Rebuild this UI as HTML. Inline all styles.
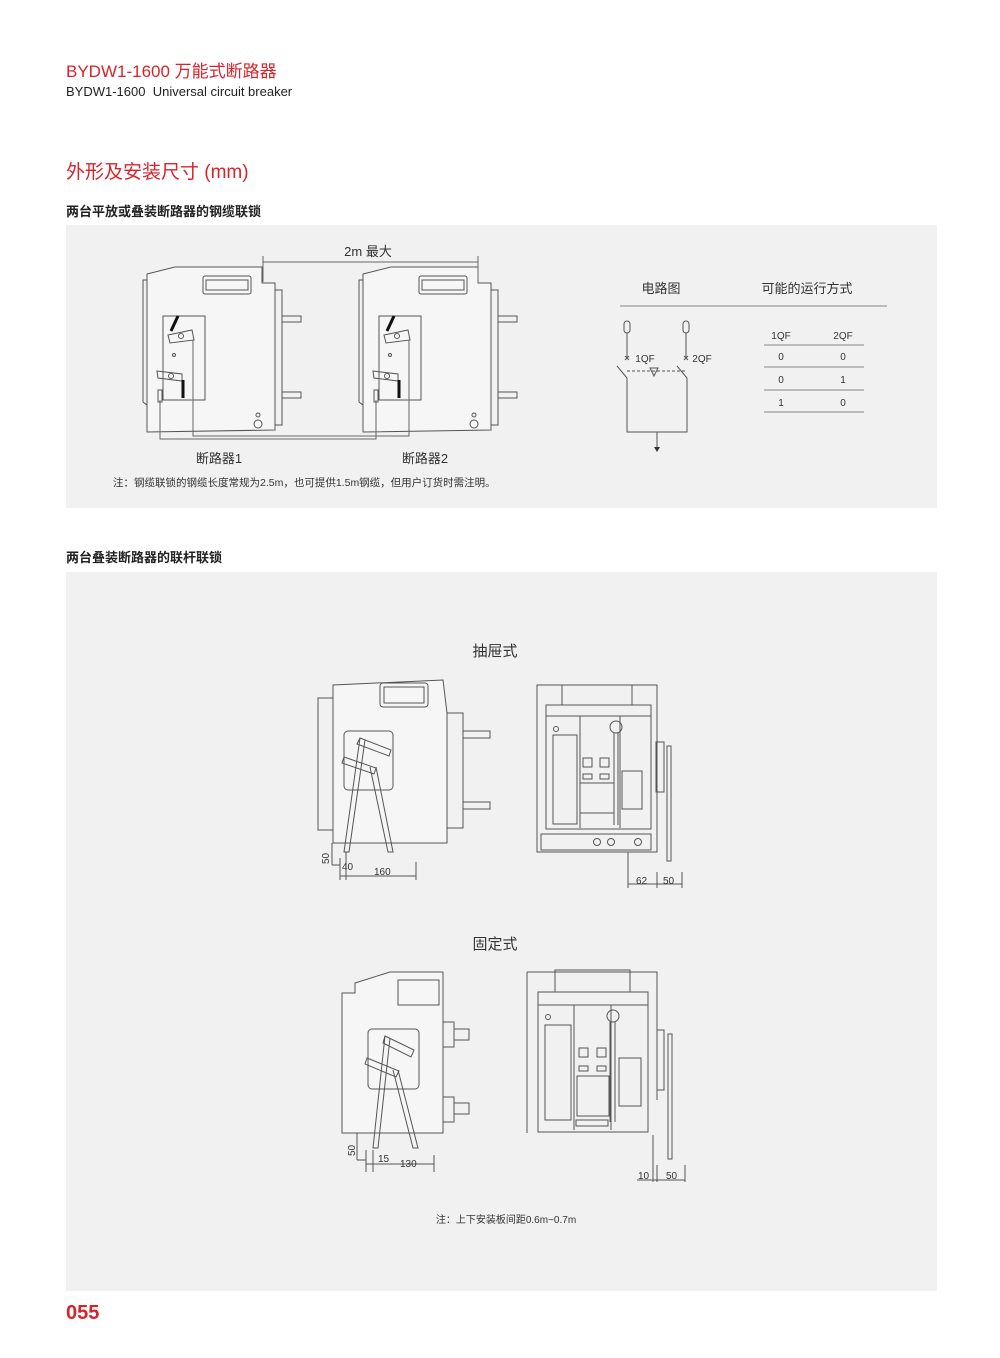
<!DOCTYPE html>
<html><head><meta charset="utf-8"><style>
body{margin:0;background:#fff;}
.pg{position:relative;width:1000px;height:1358px;overflow:hidden;font-family:"Liberation Sans","Noto Sans CJK SC",sans-serif;}
.t{position:absolute;white-space:nowrap;}
</style></head><body><div class="pg">
<div class="t" style="left:66px;top:57px;font-size:17px;color:#d8232a;">BYDW1-1600 万能式断路器</div>
<div class="t" style="left:66px;top:84px;font-size:13px;color:#222;">BYDW1-1600&nbsp; Universal circuit breaker</div>
<div class="t" style="left:66px;top:157px;font-size:19px;color:#d8232a;">外形及安装尺寸 (mm)</div>
<div class="t" style="left:66px;top:201px;font-size:13px;color:#222;font-weight:bold;">两台平放或叠装断路器的钢缆联锁</div>
<div style="position:absolute;left:66px;top:225px;width:871px;height:283px;background:#f1f1f1;"></div>
<div class="t" style="left:66px;top:547px;font-size:13px;color:#222;font-weight:bold;">两台叠装断路器的联杆联锁</div>
<div style="position:absolute;left:66px;top:572px;width:871px;height:719px;background:#f1f1f1;"></div>
<div class="t" style="left:66px;top:1302px;font-size:20px;color:#d8232a;font-weight:bold;">055</div>

<svg width="1000" height="1358" style="position:absolute;left:0;top:0" font-family="Liberation Sans, Noto Sans CJK SC, sans-serif">
<defs>
<g id="brk" fill="none" stroke="#555" stroke-width="1">
 <path d="M147,274 L175,267 L262,267 L262,283 L275,283 L275,430 L147,432 Z" fill="#f6f6f6"/>
 <path d="M147,280 L143,280 L143,402 L147,405"/>
 <rect x="275" y="290" width="7" height="135"/>
 <rect x="282" y="316" width="19" height="6"/><rect x="282" y="392" width="19" height="6"/>
 <rect x="203" y="276" width="48" height="18" rx="2"/><rect x="206" y="280" width="42" height="10"/>
 <rect x="163" y="316" width="42" height="84"/>
 <path d="M171,331 L178,316" stroke="#111" stroke-width="3"/>
 <path d="M168,335 L192,330 L194,340 L170,343 Z"/>
 <circle cx="181" cy="336" r="2.5"/><circle cx="174" cy="355" r="1.5"/>
 <path d="M157,371 L182,374 L182,381 L158,378 Z"/>
 <circle cx="171" cy="376" r="2.5"/>
 <path d="M183,380 L183,398" stroke="#111" stroke-width="3"/>
 <rect x="158" y="390" width="4" height="12"/>
 <circle cx="258" cy="415" r="2"/><circle cx="258" cy="424" r="4"/>
</g>
</defs>
<use href="#brk"/>
<use href="#brk" transform="translate(216,0)"/>
<g fill="none" stroke="#666">
 <path d="M160,400 L160,439 L376,439 L376,400"/>
 <path d="M193,340 L193,436 L409,436 L409,340"/>
 <path d="M263,262 L478,262"/><path d="M263,256 L263,282 M478,256 L478,282"/>
</g>
<text x="368" y="256" font-size="13" fill="#333" text-anchor="middle">2m 最大</text>
<text x="219" y="463" font-size="13" fill="#333" text-anchor="middle">断路器1</text>
<text x="425" y="463" font-size="13" fill="#333" text-anchor="middle">断路器2</text>
<text x="113" y="486" font-size="10.5" fill="#333">注：钢缆联锁的钢缆长度常规为2.5m，也可提供1.5m钢缆，但用户订货时需注明。</text>
<text x="661" y="293" font-size="13" fill="#333" text-anchor="middle">电路图</text>
<text x="807" y="293" font-size="13" fill="#333" text-anchor="middle">可能的运行方式</text>
<g stroke="#888" fill="none">
 <path d="M620,306 L887,306"/>
 <path d="M764,345 H864 M764,367 H864 M764,390 H864 M764,412 H864"/>
</g>
<g font-size="10" fill="#333" text-anchor="middle">
 <text x="781" y="339">1QF</text><text x="843" y="339">2QF</text>
 <text x="781" y="360">0</text><text x="843" y="360">0</text>
 <text x="781" y="383">0</text><text x="843" y="383">1</text>
 <text x="781" y="406">1</text><text x="843" y="406">0</text>
 <text x="645" y="362">1QF</text><text x="702" y="362">2QF</text>
</g>
<g stroke="#555" fill="none">
 <rect x="624" y="321" width="6" height="12" rx="3"/><rect x="683" y="321" width="6" height="12" rx="3"/>
 <path d="M627,333 V358 M686,333 V358 M625,356 l4,4 M629,356 l-4,4 M684,356 l4,4 M688,356 l-4,4"/>
 <path d="M617,366 L627,378 M677,366 L687,378"/>
 <path d="M627,371 H686" stroke-dasharray="3,2"/>
 <path d="M650,368 L658,368 L654,376 Z"/>
 <path d="M627,378 V432 H687 V378 M657,432 V448"/>
</g>
<path d="M654,447 L660,447 L657,452 Z" fill="#333"/>

<text x="495" y="656" font-size="15" fill="#333" text-anchor="middle">抽屉式</text>
<text x="495" y="949" font-size="15" fill="#333" text-anchor="middle">固定式</text>
<text x="506" y="1223" font-size="10" fill="#333" text-anchor="middle">注：上下安装板间距0.6m~0.7m</text>
<g fill="none" stroke="#555" stroke-width="1">
 <path d="M333,685 L443,680 L447,713 L447,843 L333,843 Z" fill="#f6f6f6"/>
 <path d="M333,698 L318,698 L318,830 L333,830"/>
 <rect x="447" y="713" width="16" height="115"/><rect x="463" y="731" width="27" height="7"/><rect x="463" y="802" width="27" height="7"/>
 <rect x="380" y="683" width="48" height="24" rx="3"/><rect x="384" y="687" width="40" height="16"/>
 <rect x="344" y="731" width="49" height="59" rx="4"/>
 <path d="M360,738 L391,750 L389,756 L357,744 Z"/><path d="M344,757 L376,768 L374,774 L342,763 Z"/>
 <path d="M360,738 L344,852 L349,852 L365,740"/><path d="M370,767 L388,852 L393,852 L376,767"/>
 <path d="M332,843 V865 M340,858 V880 M346,852 V880 M416,862 V880 M340,876 H416 M332,865 H340"/>
 <rect x="537" y="685" width="120" height="167"/>
 <rect x="562" y="685" width="70" height="20"/>
 <rect x="546" y="705" width="105" height="124"/>
 <path d="M546,716 H651 M580,716 V828 M620,716 V828"/>
 <rect x="553" y="735" width="24" height="89"/><rect x="622" y="771" width="20" height="38"/>
 <circle cx="556" cy="729" r="2.5"/><circle cx="616" cy="727" r="6"/><path d="M614,733 V825 M618,733 V825"/>
 <rect x="583" y="758" width="9" height="9"/><rect x="600" y="758" width="9" height="9"/><rect x="583" y="774" width="9" height="5"/><rect x="600" y="774" width="9" height="5"/>
 <rect x="580" y="783" width="34" height="30"/>
 <rect x="541" y="834" width="110" height="16"/><circle cx="597" cy="842" r="3.5"/><circle cx="611" cy="842" r="3.5"/><circle cx="638" cy="842" r="3.5"/>
 <rect x="656" y="742" width="8" height="50"/><rect x="667" y="746" width="4" height="115"/>
 <path d="M628,852 V888 M657,872 V888 M682,872 V888 M628,884 H682"/>
 <path d="M355,983 L390,972 L443,972 L443,1133 L342,1133 L342,993 L355,993 Z" fill="#f6f6f6"/>
 <rect x="398" y="980" width="41" height="25"/>
 <rect x="443" y="1022" width="11" height="25"/><rect x="454" y="1029" width="15" height="11"/>
 <rect x="443" y="1097" width="11" height="25"/><rect x="454" y="1103" width="15" height="11"/>
 <rect x="368" y="1029" width="51" height="60" rx="4"/>
 <path d="M385,1036 L414,1050 L411,1057 L383,1043 Z"/><path d="M367,1058 L399,1071 L396,1077 L365,1064 Z"/>
 <path d="M385,1036 L373,1148 L378,1148 L390,1038"/><path d="M393,1070 L413,1148 L418,1148 L398,1070"/>
 <path d="M357,1133 V1160 M366,1150 V1172 M373,1150 V1172 M434,1155 V1172 M366,1164 H434 M357,1160 H366"/>
 <path d="M527,972 H657 V1100 M527,972 V1133"/>
 <rect x="555" y="970" width="75" height="22"/>
 <rect x="538" y="992" width="110" height="140"/>
 <path d="M538,1005 H648 M574,1005 V1130 M611,1005 V1130"/>
 <rect x="545" y="1025" width="26" height="95"/><rect x="619" y="1058" width="22" height="48"/>
 <circle cx="548" cy="1017" r="2.5"/><circle cx="613" cy="1016" r="6"/><path d="M610,1022 V1122 M615,1022 V1122"/>
 <rect x="579" y="1048" width="9" height="9"/><rect x="597" y="1048" width="9" height="9"/><rect x="579" y="1066" width="9" height="5"/><rect x="597" y="1066" width="9" height="5"/>
 <rect x="577" y="1076" width="32" height="40"/>
 <rect x="576" y="1120" width="32" height="6"/>
 <rect x="657" y="1030" width="7" height="60"/><rect x="668" y="1034" width="4" height="125"/>
 <path d="M653,1135 V1182 M657,1165 V1182 M685,1165 V1182 M637,1180 H685"/>
</g>
<g font-size="10" fill="#333">
 <text x="342" y="870">40</text><text x="374" y="875">160</text>
 <text transform="translate(329,864) rotate(-90)">50</text>
 <text x="636" y="884">62</text><text x="663" y="884">50</text>
 <text x="378" y="1162">15</text><text x="400" y="1167">130</text>
 <text transform="translate(355,1156) rotate(-90)">50</text>
 <text x="638" y="1179">10</text><text x="666" y="1179">50</text>
</g>
</svg>
</div></body></html>
